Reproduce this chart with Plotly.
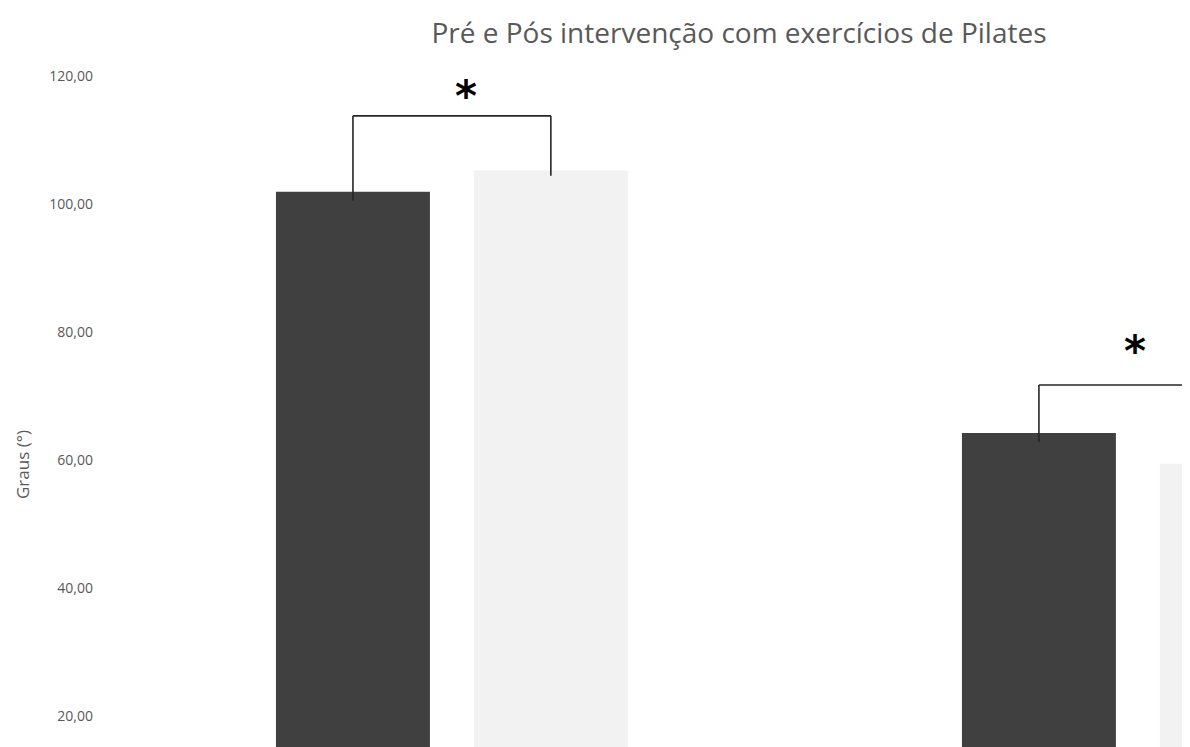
import plotly.graph_objects as go

# ---- data ----
categories = ["Grupo 1", "Grupo 2"]
pre_values = [101.9, 64.2]
pos_values = [105.2, 59.4]
series_names = ["Pré", "Pós"]
tick_values = [20, 40, 60, 80, 100, 120]
tick_labels = ["20,00", "40,00", "60,00", "80,00", "100,00", "120,00"]
bracket_tops = [113.75, 71.7]
asterisk_heights = [116.7, 77.0]
title_text = "Pré e Pós intervenção com exercícios de Pilates"
y_title = "Graus (°)"

# ---- layout params ----
W, H = 1182, 739
bargap = 0.423
bargroupgap = 0.222
slot = (1 - bargap) / 2
half = slot / 2

fig = go.Figure()
fig.add_trace(go.Bar(x=categories, y=pre_values, name=series_names[0],
                     marker=dict(color="#404040", line=dict(width=0))))
fig.add_trace(go.Bar(x=categories, y=pos_values, name=series_names[1],
                     marker=dict(color="#f2f2f2", line=dict(width=0))))

shapes = []
annotations = []
for i in range(len(categories)):
    xl = i - half
    xr = i + half
    top = bracket_tops[i]
    line = dict(color="#262626", width=1.6)
    shapes.append(dict(type="line", xref="x", yref="y", x0=xl, x1=xl,
                       y0=pre_values[i] - 1.4, y1=top, line=line))
    shapes.append(dict(type="line", xref="x", yref="y", x0=xr, x1=xr,
                       y0=pos_values[i] - 0.8, y1=top, line=line))
    shapes.append(dict(type="line", xref="x", yref="y", x0=xl, x1=xr,
                       y0=top, y1=top, line=line))
    annotations.append(dict(x=i + 0.02 if i == 0 else i - 0.004, y=asterisk_heights[i],
                            xref="x", yref="y", text="<b>*</b>", showarrow=False,
                            font=dict(size=42, color="#000000", family="DejaVu Sans"),
                            xanchor="center", yanchor="middle"))

annotations.append(dict(x=0.0, xshift=-77, y=1 - 457 / H, xref="paper", yref="paper",
                        text=y_title, textangle=-90, showarrow=False,
                        xanchor="center", yanchor="middle",
                        font=dict(size=17, color="#595959", family="Open Sans")))

fig.update_layout(
    width=W, height=H,
    margin=dict(l=92, r=0, t=0, b=0),
    paper_bgcolor="white", plot_bgcolor="white",
    barmode="group", bargap=bargap, bargroupgap=bargroupgap,
    showlegend=False,
    separators=",.",
    title=dict(text=title_text, x=731 / W, xanchor="center",
               y=1 - 25 / H, yanchor="middle",
               font=dict(size=28, color="#595959", family="Open Sans")),
    shapes=shapes, annotations=annotations,
    xaxis=dict(range=[-0.513, 1.076], showticklabels=False, showgrid=False,
               zeroline=False, showline=False, ticks=""),
    yaxis=dict(range=[15.16, 130.6], tickvals=tick_values, ticktext=tick_labels,
               showgrid=False, zeroline=False, showline=False, ticks="",
               ticklabelstandoff=6,
               tickfont=dict(size=14, color="#595959", family="Open Sans")),
)

fig.write_html("out.html")
